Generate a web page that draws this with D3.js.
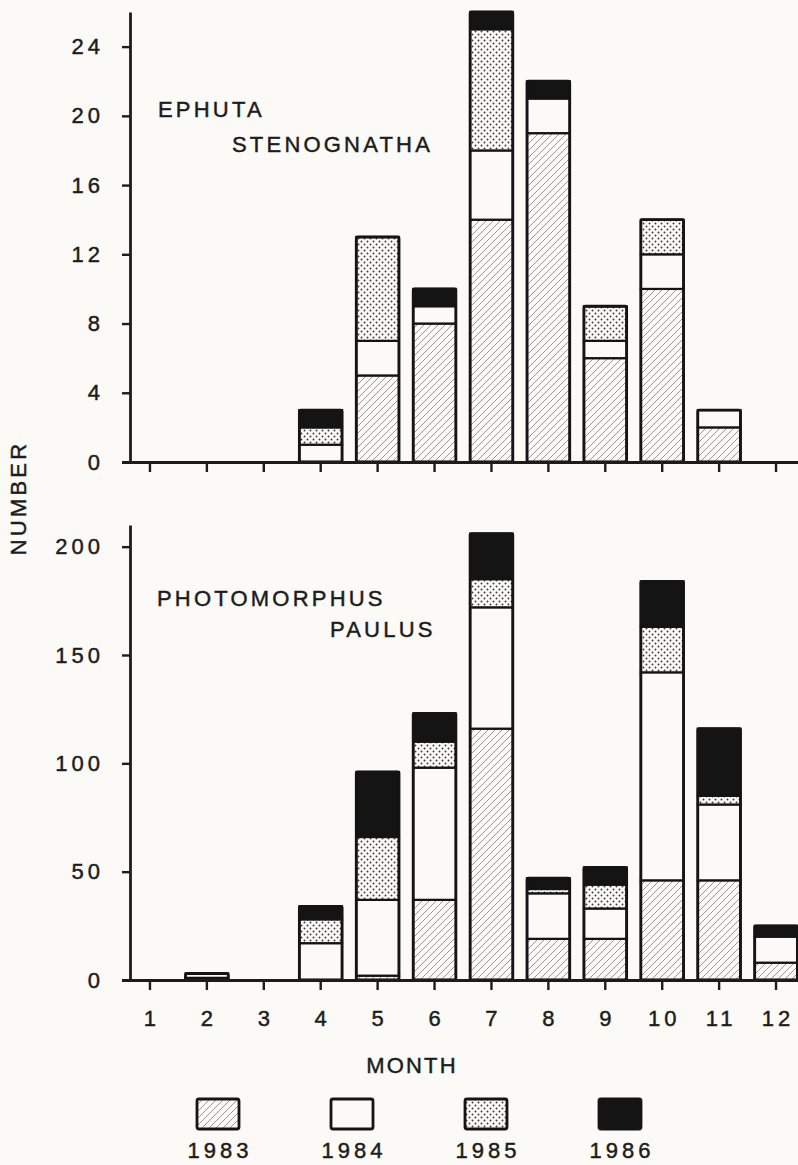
<!DOCTYPE html>
<head>
    <meta charset="utf-8">
    <script src="https://d3js.org/d3.v7.min.js"></script>
    <style>
        body { margin: 0; background: #fbfaf6; }
        text { font-family: "Liberation Sans", Arial, sans-serif; font-size: 22px; letter-spacing: 3.2px;
               fill: #1c1c1c; stroke: #1c1c1c; stroke-width: 0.45px; }
        .num { letter-spacing: 4px; }
    </style>
</head>

<body>
    <div id="chart"></div>
</body>

<script>

    const months = [1, 2, 3, 4, 5, 6, 7, 8, 9, 10, 11, 12];
    const years = ["1983", "1984", "1985", "1986"];

    // Ephuta stenognatha, counts per month
    const eph1983 = [0, 0, 0, 0, 5, 8, 14, 19, 6, 10, 2, 0];
    const eph1984 = [0, 0, 0, 1, 2, 1, 4, 2, 1, 2, 1, 0];
    const eph1985 = [0, 0, 0, 1, 6, 0, 7, 0, 2, 2, 0, 0];
    const eph1986 = [0, 0, 0, 1, 0, 1, 1, 1, 0, 0, 0, 0];
    const ephTicks = [0, 4, 8, 12, 16, 20, 24];

    // Photomorphus paulus, counts per month
    const pho1983 = [0, 1, 0, 0, 2, 37, 116, 19, 19, 46, 46, 8];
    const pho1984 = [0, 2, 0, 17, 35, 61, 56, 21, 14, 96, 35, 12];
    const pho1985 = [0, 0, 0, 11, 29, 12, 13, 2, 11, 21, 4, 0];
    const pho1986 = [0, 0, 0, 6, 30, 13, 21, 5, 8, 21, 31, 5];
    const phoTicks = [0, 50, 100, 150, 200];

    const bg = "#fbfaf6";

    const svg = d3.select("#chart")
        .append("svg")
            .attr("width", 798)
            .attr("height", 1165);

    // fill patterns
    const defs = svg.append("defs");

    const hatch = defs.append("pattern")
        .attr("id", "hatch")
        .attr("patternUnits", "userSpaceOnUse")
        .attr("width", 7)
        .attr("height", 7);
    hatch.append("rect").attr("width", 7).attr("height", 7).attr("fill", bg);
    hatch.append("path")
        .attr("d", "M0,7L7,0M-1,1L1,-1M6,8L8,6")
        .attr("stroke", "#7c7c7c")
        .attr("stroke-width", 0.8);

    const dots = defs.append("pattern")
        .attr("id", "dots")
        .attr("patternUnits", "userSpaceOnUse")
        .attr("width", 6)
        .attr("height", 6);
    dots.append("rect").attr("width", 6).attr("height", 6).attr("fill", bg);
    dots.append("circle").attr("cx", 1.5).attr("cy", 1.5).attr("r", 0.95).attr("fill", "#3a3a3a");
    dots.append("circle").attr("cx", 4.5).attr("cy", 4.5).attr("r", 0.95).attr("fill", "#3a3a3a");

    const fills = {"1983": "url(#hatch)", "1984": bg, "1985": "url(#dots)", "1986": "#141414"};

    const x = d3.scaleBand()
        .domain(months)
        .range([121.5, 804.5])
        .paddingInner(0.25)
        .paddingOuter(0.125);

    function panel(series, max, ticks, y0, y1, showLabels) {
        const g = svg.append("g");

        const y = d3.scaleLinear()
            .domain([0, max])
            .range([y1, y0]);

        const rows = months.map((m, i) => {
            const r = {month: m};
            years.forEach((yr, k) => r[yr] = series[k][i]);
            return r;
        });
        const stacked = d3.stack().keys(years)(rows);

        // segments
        stacked.forEach(layer => {
            g.selectAll(null)
                .data(layer.filter(d => d[1] > d[0]))
                .join("rect")
                    .attr("x", d => x(d.data.month))
                    .attr("y", d => y(d[1]))
                    .attr("width", x.bandwidth())
                    .attr("height", d => y(d[0]) - y(d[1]))
                    .attr("fill", fills[layer.key])
                    .attr("stroke", "#141414")
                    .attr("stroke-width", 2.2);
        });

        // bar outline
        g.selectAll(null)
            .data(rows.filter(r => d3.sum(years, yr => r[yr]) > 0))
            .join("rect")
                .attr("x", d => x(d.month))
                .attr("y", d => y(d3.sum(years, yr => d[yr])))
                .attr("width", x.bandwidth())
                .attr("height", d => y1 - y(d3.sum(years, yr => d[yr])))
                .attr("fill", "none")
                .attr("stroke", "#141414")
                .attr("stroke-width", 2.8)
                .attr("rx", 1.5);

        // X axis
        const xa = g.append("g")
            .attr("transform", `translate(0,${y1})`)
            .call(d3.axisBottom(x).tickSize(10).tickSizeOuter(0).tickFormat(showLabels ? d => d : ""));
        xa.select(".domain").attr("stroke", "#1c1c1c").attr("stroke-width", 2.8);
        xa.selectAll(".tick line").attr("stroke", "#1c1c1c").attr("stroke-width", 2.4);
        xa.selectAll(".tick text").attr("class", "num").attr("y", 46).attr("dy", 0).attr("dx", 2);

        // Y axis
        const ya = g.append("g")
            .attr("transform", "translate(130,0)")
            .call(d3.axisLeft(y).tickValues(ticks).tickSize(8).tickPadding(22).tickSizeOuter(0));
        ya.select(".domain").attr("stroke", "#1c1c1c").attr("stroke-width", 2.8);
        ya.selectAll(".tick line").attr("stroke", "#1c1c1c").attr("stroke-width", 2.4);
        ya.selectAll(".tick text").attr("class", "num").attr("x", -26);

        return g;
    }

    const ephPanel = panel([eph1983, eph1984, eph1985, eph1986], 26, ephTicks, 12, 462, false);
    ephPanel.append("text").attr("x", 158).attr("y", 117).text("EPHUTA");
    ephPanel.append("text").attr("x", 232).attr("y", 152).text("STENOGNATHA");

    const phoPanel = panel([pho1983, pho1984, pho1985, pho1986], 210, phoTicks, 525, 980, true);
    phoPanel.append("text").attr("x", 157).attr("y", 606).text("PHOTOMORPHUS");
    phoPanel.append("text").attr("x", 330).attr("y", 637).text("PAULUS");

    // axis titles
    svg.append("text")
        .attr("transform", "translate(26,498) rotate(-90)")
        .attr("text-anchor", "middle")
        .text("NUMBER");

    svg.append("text")
        .attr("x", 412)
        .attr("y", 1073)
        .attr("text-anchor", "middle")
        .style("letter-spacing", "2.2px")
        .text("MONTH");

    // legend
    const lx = d3.scalePoint()
        .domain(years)
        .range([218, 620]);

    const leg = svg.append("g");
    leg.selectAll("rect")
        .data(years)
        .join("rect")
            .attr("x", d => lx(d) - 21)
            .attr("y", 1099)
            .attr("width", 42)
            .attr("height", 30)
            .attr("rx", 2)
            .attr("fill", d => fills[d])
            .attr("stroke", "#141414")
            .attr("stroke-width", 2.8);
    leg.selectAll("text")
        .data(years)
        .join("text")
            .attr("class", "num")
            .attr("x", d => lx(d) + 2)
            .attr("y", 1158)
            .attr("text-anchor", "middle")
            .text(d => d);

</script>
</html>
